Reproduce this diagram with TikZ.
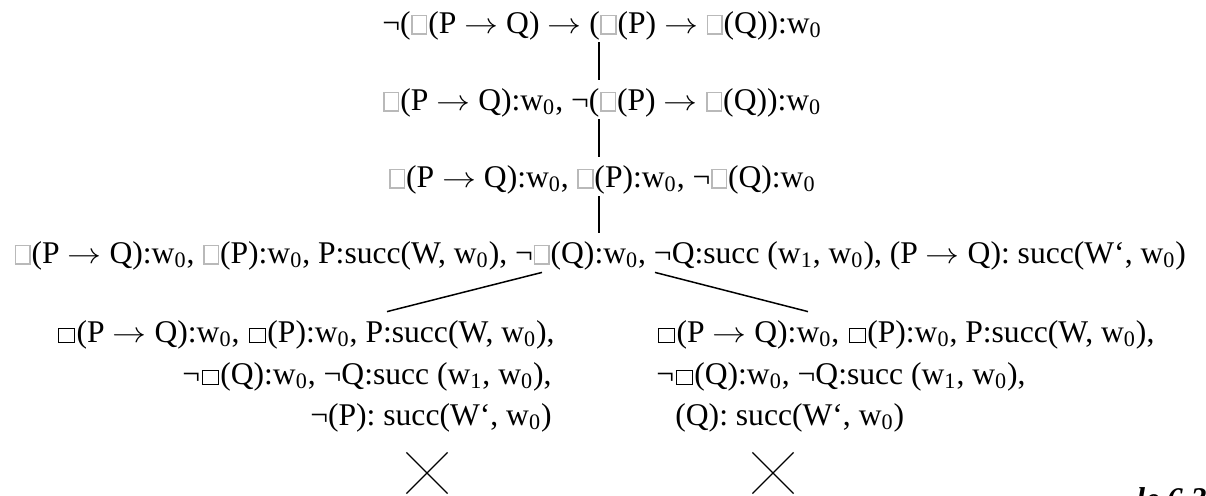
\documentclass[tikz,border=0pt]{standalone}
\usepackage{fontspec}
\setmainfont{Liberation Serif}
\usepackage{graphicx}
\usetikzlibrary{shapes.misc}
\newcommand\gbx{{\setlength\fboxsep{0pt}\setlength\fboxrule{0.05em}\kern0.02em\fcolorbox{gray!55}{white}{\rule{0pt}{0.53em}\rule{0.41em}{0pt}}\kern0.03em}}
\newcommand\bbx{{\setlength\fboxsep{0pt}\setlength\fboxrule{0.038em}\kern0.05em\fbox{\rule{0pt}{0.42em}\rule{0.46em}{0pt}}\kern0.05em}}
\newcommand\arr{\scalebox{1.18}[1]{$\rightarrow$}}
\newcommand\wz{w\textsubscript{0}}
\newcommand\wo{w\textsubscript{1}}
\begin{document}
\begin{tikzpicture}[x=0.5pt,y=-0.5pt,
  every node/.style={font=\fontsize{15.8pt}{18pt}\selectfont},
  row/.style={anchor=base, inner xsep=0pt, inner ysep=1.5pt, text height=13.5pt, text depth=3pt},
  lrow/.style={row, anchor=base east},
  rrow/.style={row, anchor=base west},
  conn/.style={line width=0.9pt},
  branch/.style={line width=0.75pt},
  closed/.style={draw, cross out, minimum size=20pt, inner sep=0pt, line width=0.6pt}]
\useasboundingbox (0,0) rectangle (1206,495);
\node[row] (r1) at (602,33) {¬(\gbx(P \arr{} Q) \arr{} (\gbx(P) \arr{} \gbx(Q)):\wz};
\node[row] (r2) at (602,110) {\gbx(P \arr{} Q):\wz, ¬(\gbx(P) \arr{} \gbx(Q)):\wz};
\node[row] (r3) at (602,187) {\gbx(P \arr{} Q):\wz, \gbx(P):\wz, ¬\gbx(Q):\wz};
\node[row] (r4) at (600,263) {\gbx(P \arr{} Q):\wz, \gbx(P):\wz, P:succ(W, \wz), ¬\gbx(Q):\wz, ¬Q:succ (\wo, \wz), (P \arr{} Q): succ(W‘, \wz)};
\node[lrow] (L1) at (555,342) {\bbx(P \arr{} Q):\wz, \bbx(P):\wz, P:succ(W, \wz),};
\node[lrow] (L2) at (552,384) {¬\bbx(Q):\wz, ¬Q:succ (\wo, \wz),};
\node[lrow] (L3) at (552,425) {¬(P): succ(W‘, \wz)};
\node[rrow] (R1) at (656,342) {\bbx(P \arr{} Q):\wz, \bbx(P):\wz, P:succ(W, \wz),};
\node[rrow] (R2) at (656,384) {¬\bbx(Q):\wz, ¬Q:succ (\wo, \wz),};
\node[rrow] (R3) at (675,425) {(Q): succ(W‘, \wz)};
\node[closed] (x1) at (427,473) {};
\node[closed] (x2) at (773,473) {};
\node[anchor=north west, inner sep=0pt, font=\fontsize{15.8pt}{18pt}\selectfont\bfseries\itshape] (ex) at (1136,487) {le 6.3};
\coordinate (vx) at (599,0);
\coordinate (bl) at (542,0);
\coordinate (lb) at (387,0);
\coordinate (br) at (655,0);
\coordinate (rb) at (808,0);
\draw[conn] (r1.south -| vx) -- (r2.north -| vx);
\draw[conn] (r2.south -| vx) -- (r3.north -| vx);
\draw[conn] (r3.south -| vx) -- (r4.north -| vx);
\draw[branch] (r4.south -| bl) -- (L1.north -| lb);
\draw[branch] (r4.south -| br) -- (R1.north -| rb);
\end{tikzpicture}
\end{document}
